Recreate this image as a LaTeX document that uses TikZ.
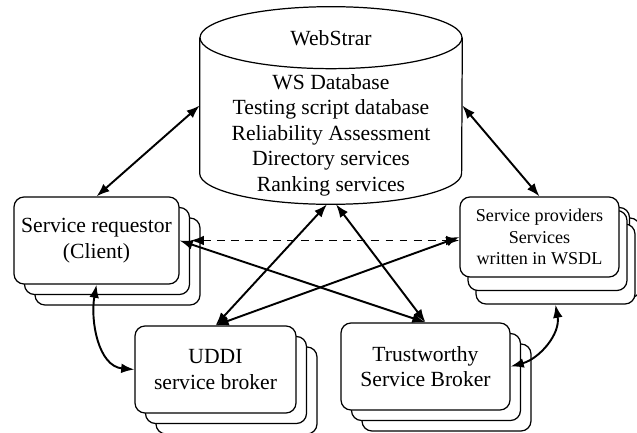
\documentclass[tikz,border=0pt]{standalone}
\usepackage{fontspec}
\setmainfont{Liberation Serif}
\usetikzlibrary{shadows,arrows.meta,calc}

\begin{document}
\begin{tikzpicture}[x=0.02cm, y=-0.02cm, font=\fontsize{12.3}{14.5}\selectfont,
	stack/.style={draw, line width=0.7pt, fill=white, rounded corners=0.2cm, align=center, inner sep=0pt,
		double copy shadow={shadow xshift=0.21cm, shadow yshift=-0.21cm, draw, fill=white, line width=0.7pt}},
	link/.style={draw, line width=1.1pt, {Latex[length=7.5pt,width=5.5pt]}-{Latex[length=7.5pt,width=5.5pt]}} ]

	\useasboundingbox (0,0) rectangle (637,433);

	% repository, outline drawn as a cylinder round the node
	\node[minimum width=5.24cm, minimum height=3.94cm, inner sep=0pt] (db) at (331,105.5) {};
	\draw[line width=0.7pt] ($(db.north west)+(0,31)$) -- ($(db.south west)-(0,31)$)
		arc[start angle=180, end angle=360, x radius=2.62cm, y radius=0.62cm]
		-- ($(db.north east)+(0,31)$);
	\draw[line width=0.7pt] ($(db.north)+(0,31)$) ellipse[x radius=2.62cm, y radius=0.62cm];
	\node (dbtitle) at (331,38) {WebStrar};
	\node[align=center] (dbtext) at (331,135) {WS Database\\Testing script database\\Reliability Assessment\\Directory services\\Ranking services};

	% parties
	\node[stack, minimum width=3.3cm, minimum height=1.74cm] (req) at (96.5,240.5) {Service requestor\\(Client)};
	\node[stack, minimum width=3.22cm, minimum height=1.74cm] (uddi) at (215.5,369.5) {UDDI\\service broker};
	\node[stack, minimum width=3.38cm, minimum height=1.74cm] (trust) at (425.5,366.5) {Trustworthy\\Service Broker};
	\node[stack, minimum width=3.18cm, minimum height=1.6cm, font=\fontsize{10.3}{12.2}\selectfont,
		double copy shadow={shadow xshift=0.16cm, shadow yshift=-0.27cm, draw, fill=white, line width=0.7pt}]
		(prov) at (539.5,237) {Service providers\\Services\\written in WSDL};

	\draw[link] (req.north) -- (db.180);
	\draw[link] (prov.north) -- (db.0);
	\draw[link, dash pattern=on 4.5pt off 3.5pt] ([xshift=0.22cm]req.east) -- (req.east -| prov.west);
	\draw[link] (req.east) -- (trust.north);
	\draw[link] (uddi.north) -- (prov.west);
	\draw[link] (uddi.north) -- ([xshift=-0.08cm]db.south);
	\draw[link] (trust.north) -- ([xshift=0.1cm]db.south);
	\draw[link] (req.south) to[out=-100, in=175] (uddi.west);
	\draw[link] (trust.east) to[out=15, in=-80] ([shift={(16,27)}]prov.south);
\end{tikzpicture}
\end{document}
